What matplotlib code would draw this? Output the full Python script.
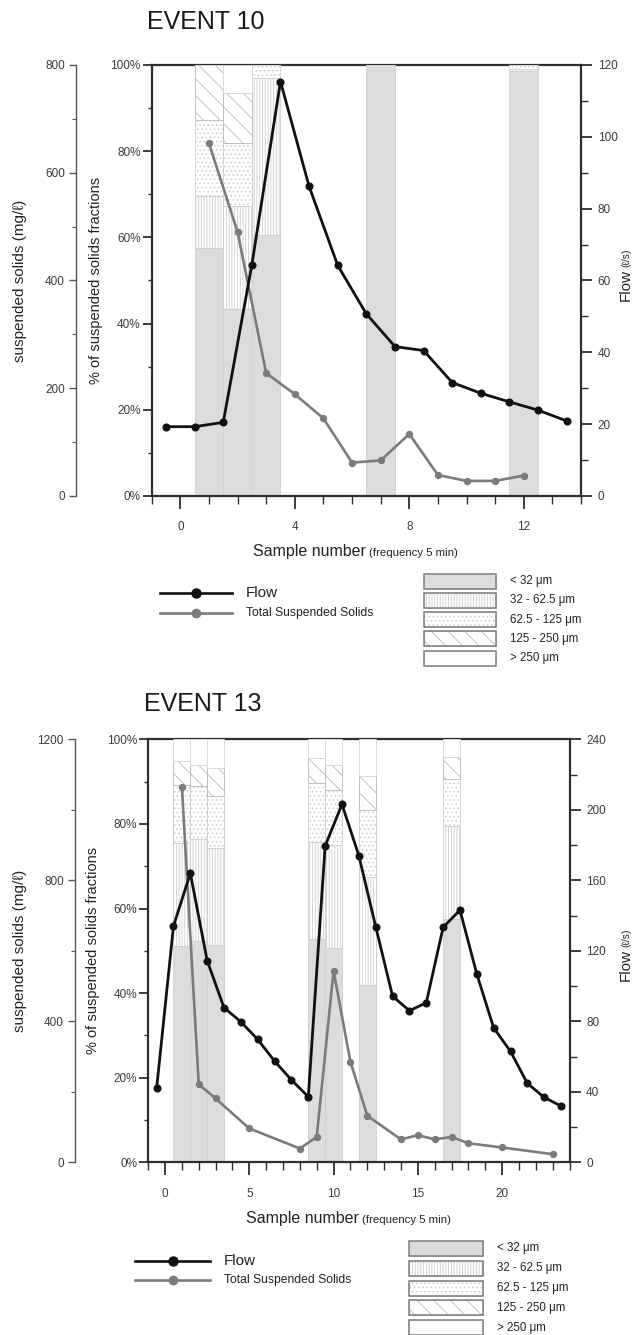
import matplotlib
matplotlib.use("Agg")
import matplotlib.pyplot as plt
from matplotlib.patches import Rectangle
from matplotlib.lines import Line2D
from matplotlib.ticker import MultipleLocator, FixedLocator, FuncFormatter

plt.rcParams['font.family'] = ['Liberation Sans', 'DejaVu Sans']
plt.rcParams['hatch.linewidth'] = 0.6

# ---------------- data: EVENT 10 ----------------
e10_flow_x = [-0.5, 0.5, 1.5, 2.5, 3.5, 4.5, 5.5, 6.5, 7.5, 8.5, 9.5, 10.5, 11.5, 12.5, 13.5]
e10_flow = [19.3, 19.3, 20.5, 64.4, 115.4, 86.2, 64.2, 50.7, 41.6, 40.5, 31.6, 28.6, 26.2, 23.9, 20.9]
e10_tss_x = [1, 2, 3, 4, 5, 6, 7, 8, 9, 10, 11, 12]
e10_tss = [655, 490, 228, 189, 144, 62, 66, 115, 39, 28, 28, 38]
e10_bar_x = [1, 2, 3, 7, 12]
e10_lt32 = [57.6, 43.4, 60.5, 100.0, 98.5]
e10_32_62 = [12.0, 23.8, 36.4, 0.0, 0.5]
e10_62_125 = [17.6, 14.7, 3.1, 0.0, 1.0]
e10_125_250 = [12.8, 11.5, 0.0, 0.0, 0.0]
e10_gt250 = [0.0, 6.6, 0.0, 0.0, 0.0]
e10_xticks = [0, 4, 8, 12]

# ---------------- data: EVENT 13 ----------------
e13_flow_x = [-0.5, 0.5, 1.5, 2.5, 3.5, 4.5, 5.5, 6.5, 7.5, 8.5, 9.5, 10.5, 11.5, 12.5,
              13.5, 14.5, 15.5, 16.5, 17.5, 18.5, 19.5, 20.5, 21.5, 22.5, 23.5]
e13_flow = [41.9, 134, 164, 114.4, 87.7, 79.7, 69.7, 57.4, 46.7, 37.2, 179.5, 203.1, 174, 133.7,
            94.3, 86, 90.5, 133.3, 143.1, 106.8, 76.3, 62.9, 44.8, 36.8, 31.9]
e13_tss_x = [1, 2, 3, 5, 8, 9, 10, 11, 12, 14, 15, 16, 17, 18, 20, 23]
e13_tss = [1066, 221, 181, 96, 39, 72, 543, 285, 132, 65, 77, 65, 72, 54, 42, 23]
e13_bar_x = [1, 2, 3, 9, 10, 12, 17]
e13_lt32 = [51.2, 52.4, 51.4, 52.7, 50.7, 41.8, 57.5]
e13_32_62 = [24.3, 24.0, 23.0, 23.1, 24.4, 25.7, 22.1]
e13_62_125 = [13.6, 12.6, 12.2, 13.8, 12.9, 15.9, 10.9]
e13_125_250 = [5.7, 5.0, 6.5, 5.9, 6.0, 8.0, 5.4]
e13_gt250 = [5.2, 6.0, 6.9, 4.5, 6.0, 8.6, 4.1]
e13_xticks = [0, 5, 10, 15, 20]

class_labels = ["< 32 \u03bcm", "32 - 62.5 \u03bcm", "62.5 - 125 \u03bcm", "125 - 250 \u03bcm", "> 250 \u03bcm"]
line_labels = ["Flow", "Total Suspended Solids"]

# ---------------- styles ----------------
CLASS_FILL = ['#dcdcdc', '#ffffff', '#ffffff', '#ffffff', '#ffffff']
CLASS_EDGE = ['#d0d0d0', '#cdcdcd', '#cccccc', '#b8b8b8', '#d8d8d8']
CLASS_HATCH = [None, '||||||', '....', '\\\\', None]
FLOW_C = '#111111'
TSS_C = '#7b7b7b'
SPINE_C = '#2e2e2e'
TICK_C = '#3c3c3c'

W, H = 636, 1335
fig = plt.figure(figsize=(W / 100, H / 100), dpi=100)
PT = 0.72  # points per pixel at 100 dpi


def fx(x):
    return x / W


def fy(y):
    return 1 - y / H


def pct_fmt(v, p):
    return f"{int(round(v))}%"


def draw_event(L, T, R, B, xmax, xticks, tss_max, tss_step, flow_max, flow_step,
               flow_x, flow, tss_x, tss, bar_x, fractions, tss_offset):
    ax = fig.add_axes([fx(L), fy(B), (R - L) / W, (B - T) / H])
    ax.set_xlim(-1, xmax)
    ax.set_ylim(0, 100)
    base = [0.0] * len(bar_x)
    for vals, fc, ec, h in zip(fractions, CLASS_FILL, CLASS_EDGE, CLASS_HATCH):
        ax.bar(bar_x, vals, bottom=base, width=1.0, facecolor=fc, edgecolor=ec,
               hatch=h, linewidth=0.6, zorder=1)
        base = [b + v for b, v in zip(base, vals)]

    for s in ['left', 'top', 'bottom']:
        ax.spines[s].set_color(SPINE_C)
        ax.spines[s].set_linewidth(1.6)
    ax.spines['top'].set_zorder(0.5)
    ax.spines['right'].set_visible(False)

    ax.yaxis.set_major_locator(MultipleLocator(20))
    ax.yaxis.set_minor_locator(MultipleLocator(10))
    ax.yaxis.set_major_formatter(FuncFormatter(pct_fmt))
    ax.xaxis.set_major_locator(FixedLocator(xticks))
    ax.xaxis.set_minor_locator(MultipleLocator(1))
    ax.tick_params(axis='y', which='major', direction='out', length=9 * PT, width=1.3,
                   color=SPINE_C, labelsize=8.5, labelcolor=TICK_C, pad=1.5)
    ax.tick_params(axis='y', which='minor', direction='out', length=4 * PT, width=1.0, color=SPINE_C)
    ax.tick_params(axis='x', which='major', direction='out', length=13 * PT, width=1.3,
                   color=SPINE_C, labelsize=8.5, labelcolor=TICK_C, pad=9)
    ax.tick_params(axis='x', which='minor', direction='out', length=8 * PT, width=1.0, color=SPINE_C)

    # TSS axis (offset left)
    ax_t = ax.twinx()
    ax_t.set_ylim(0, tss_max)
    for s in ['right', 'top', 'bottom']:
        ax_t.spines[s].set_visible(False)
    ax_t.spines['left'].set_visible(True)
    ax_t.spines['left'].set_position(('outward', tss_offset * PT))
    ax_t.spines['left'].set_color('#555555')
    ax_t.spines['left'].set_linewidth(1.0)
    ax_t.yaxis.tick_left()
    ax_t.yaxis.set_major_locator(MultipleLocator(tss_step))
    ax_t.yaxis.set_minor_locator(MultipleLocator(tss_step / 2))
    ax_t.tick_params(axis='y', which='major', direction='out', length=7 * PT, width=1.0,
                     color='#555555', labelsize=8.5, labelcolor=TICK_C, pad=3)
    ax_t.tick_params(axis='y', which='minor', direction='out', length=4 * PT, width=0.8, color='#555555')
    ax_t.plot(tss_x, tss, color=TSS_C, lw=1.9, marker='o', ms=4.3, mfc=TSS_C, mec=TSS_C)

    # Flow axis (right)
    ax_f = ax.twinx()
    ax_f.set_ylim(0, flow_max)
    for s in ['left', 'top', 'bottom']:
        ax_f.spines[s].set_visible(False)
    ax_f.spines['right'].set_color(SPINE_C)
    ax_f.spines['right'].set_linewidth(1.6)
    ax_f.yaxis.set_major_locator(MultipleLocator(flow_step))
    ax_f.yaxis.set_minor_locator(MultipleLocator(flow_step / 2))
    ax_f.tick_params(axis='y', which='major', direction='out', length=11 * PT, width=1.3,
                     color=SPINE_C, labelsize=8.5, labelcolor=TICK_C, pad=4)
    ax_f.tick_params(axis='y', which='minor', direction='out', length=7 * PT, width=1.0, color=SPINE_C)
    ax_f.plot(flow_x, flow, color=FLOW_C, lw=2.0, marker='o', ms=4.8, mfc=FLOW_C, mec=FLOW_C)
    return ax


def legend(ov, line_x0, line_x1, line_y0, text_x, box_x0, box_x1, box_y0, box_step):
    for i, (lab, c, ms, fs) in enumerate(zip(line_labels, [FLOW_C, TSS_C], [6.5, 6.0], [11, 8.7])):
        y = line_y0 + i * 19.4
        ov.add_line(Line2D([line_x0, line_x1], [y, y], color=c, lw=1.9))
        ov.add_line(Line2D([(line_x0 + line_x1) / 2], [y], color=c, marker='o', ms=ms, mec=c, mfc=c))
        ov.text(text_x, y, lab, fontsize=fs, ha='left', va='center', color='#222222')
    for i, (lab, fc, ec, h) in enumerate(zip(class_labels, CLASS_FILL, CLASS_EDGE, CLASS_HATCH)):
        yc = box_y0 + i * box_step
        ov.add_patch(Rectangle((box_x0, yc - 7.5), box_x1 - box_x0, 15, facecolor=fc,
                               edgecolor=ec, hatch=h, lw=0.6))
        ov.add_patch(Rectangle((box_x0, yc - 7.5), box_x1 - box_x0, 15, facecolor='none',
                               edgecolor='#7d7d7d', lw=1.1))
        ov.text(box_x1 + 14, yc, lab, fontsize=8.3, ha='left', va='center', color='#222222')


ax10 = draw_event(151.7, 65, 581, 496, 14, e10_xticks, 800, 200, 120, 20,
                  e10_flow_x, e10_flow, e10_tss_x, e10_tss, e10_bar_x,
                  [e10_lt32, e10_32_62, e10_62_125, e10_125_250, e10_gt250], 75.7)
ax13 = draw_event(148.2, 739.3, 569.5, 1162.3, 24, e13_xticks, 1200, 400, 240, 40,
                  e13_flow_x, e13_flow, e13_tss_x, e13_tss, e13_bar_x,
                  [e13_lt32, e13_32_62, e13_62_125, e13_125_250, e13_gt250], 73.2)

ov = fig.add_axes([0, 0, 1, 1], facecolor='none')
ov.set_xlim(0, W)
ov.set_ylim(H, 0)
ov.axis('off')

events = [
    dict(title="EVENT 10", tx=147, ty=22, tss_x=20, pct_x=96, mid=280.5, flow_x=626,
         flow_a=301, split=366, sn_y=556, leg=(160, 232, 593.3, 246, 424, 496, 581, 19.3)),
    dict(title="EVENT 13", tx=144, ty=704, tss_x=20, pct_x=93, mid=950.8, flow_x=626,
         flow_a=981, split=359, sn_y=1223, leg=(135, 210, 1260.7, 224, 409, 483, 1248.3, 19.85)),
]
for ev in events:
    ov.text(ev['tx'], ev['ty'], ev['title'], fontsize=18, ha='left', va='center', color='#1a1a1a')
    ov.text(ev['tss_x'], ev['mid'], "suspended solids (mg/\u2113)", fontsize=11, rotation=90,
            ha='center', va='center', color='#222222')
    ov.text(ev['pct_x'], ev['mid'], "% of suspended solids fractions", fontsize=10.5, rotation=90,
            ha='center', va='center', color='#222222')
    ov.text(ev['flow_x'], ev['flow_a'], "Flow", fontsize=11, rotation=90,
            ha='center', va='bottom', color='#222222')
    ov.text(ev['flow_x'] + 0.5, ev['flow_a'] - 34, "(\u2113/s)", fontsize=7.5, rotation=90,
            ha='center', va='bottom', color='#222222')
    ov.text(ev['split'], ev['sn_y'], "Sample number", fontsize=11.5, ha='right', va='baseline',
            color='#222222')
    ov.text(ev['split'] + 3, ev['sn_y'], "(frequency 5 min)", fontsize=8.2, ha='left', va='baseline',
            color='#222222')
    legend(ov, *ev['leg'])

fig.savefig("out.png", dpi=100)
